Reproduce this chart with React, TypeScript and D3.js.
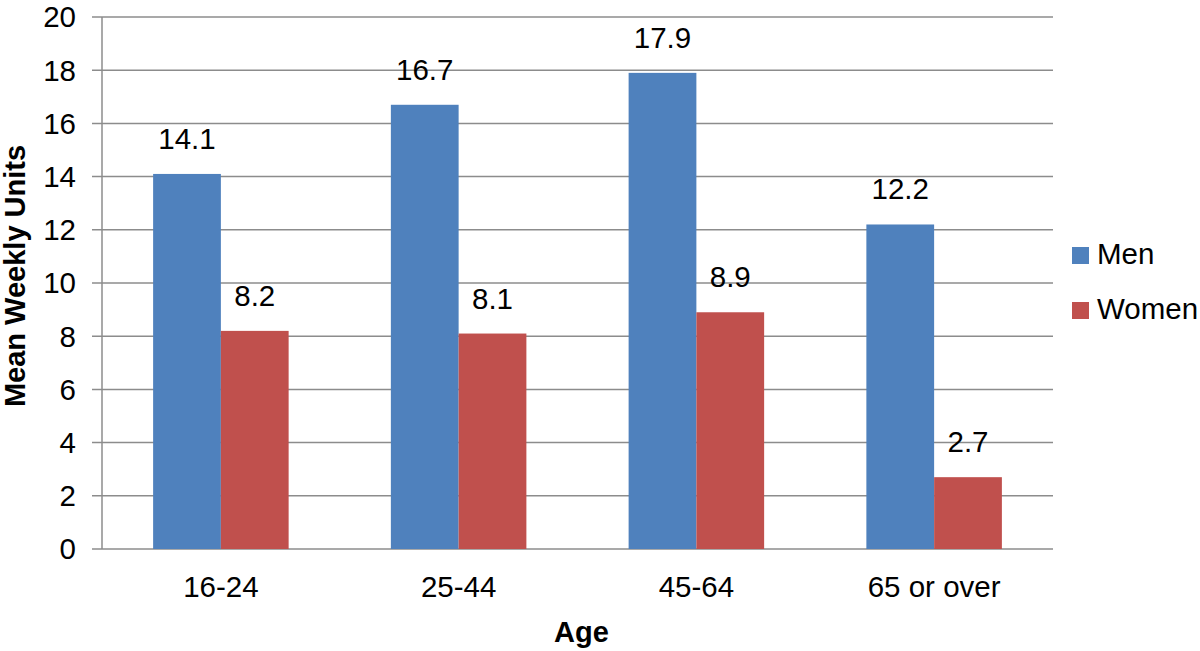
import React, { useEffect, useRef } from "react";
import * as d3 from "d3";

const ageGroups = ["16-24", "25-44", "45-64", "65 or over"];
const seriesNames = ["Men", "Women"];
const menUnits = [14.1, 16.7, 17.9, 12.2];
const womenUnits = [8.2, 8.1, 8.9, 2.7];
const yTicks = [0, 2, 4, 6, 8, 10, 12, 14, 16, 18, 20];

const colors = ["#4F81BD", "#C0504D"];
const font = "'Liberation Sans', Arial, Helvetica, sans-serif";
const fs = "29.5px";

const App = () => {
  const ref = useRef<SVGSVGElement>(null);

  useEffect(() => {
    const width = 1200;
    const height = 651;
    const margin = { top: 17, right: 147, bottom: 102, left: 102 };

    const svg = d3.select(ref.current);
    svg.selectAll("*").remove();

    const x0 = d3
      .scaleBand()
      .domain(ageGroups)
      .range([margin.left, width - margin.right])
      .paddingInner(0.43)
      .paddingOuter(0.215);
    const x1 = d3.scaleBand().domain(seriesNames).range([0, x0.bandwidth()]);
    const y = d3
      .scaleLinear()
      .domain([0, 20])
      .range([height - margin.bottom, margin.top]);

    const g = svg.append("g");

    // gridlines + left tick marks
    g.selectAll("line.grid")
      .data(yTicks)
      .enter()
      .append("line")
      .attr("x1", margin.left - 10)
      .attr("x2", width - margin.right)
      .attr("y1", (d) => y(d))
      .attr("y2", (d) => y(d))
      .attr("stroke", "#8c8c8c")
      .attr("stroke-width", 1.5);

    g.append("line")
      .attr("x1", margin.left)
      .attr("x2", margin.left)
      .attr("y1", y(20))
      .attr("y2", y(0))
      .attr("stroke", "#8c8c8c")
      .attr("stroke-width", 1.5);

    g.selectAll("text.ytick")
      .data(yTicks)
      .enter()
      .append("text")
      .attr("x", 76)
      .attr("y", (d) => y(d))
      .attr("dy", "0.35em")
      .attr("text-anchor", "end")
      .style("font-family", font)
      .style("font-size", fs)
      .text((d) => d);

    const rows = ageGroups.map((a, i) => ({
      age: a,
      values: [menUnits[i], womenUnits[i]],
    }));

    const groups = g
      .selectAll("g.group")
      .data(rows)
      .enter()
      .append("g")
      .attr("transform", (d) => `translate(${x0(d.age)},0)`);

    groups
      .selectAll("rect")
      .data((d) => d.values.map((v, j) => ({ key: seriesNames[j], v, j })))
      .enter()
      .append("rect")
      .attr("x", (d) => x1(d.key)!)
      .attr("y", (d) => y(d.v))
      .attr("width", x1.bandwidth())
      .attr("height", (d) => y(0) - y(d.v))
      .attr("fill", (d) => colors[d.j]);

    groups
      .selectAll("text.label")
      .data((d) => d.values.map((v, j) => ({ key: seriesNames[j], v })))
      .enter()
      .append("text")
      .attr("x", (d) => x1(d.key)! + x1.bandwidth() / 2)
      .attr("y", (d) => y(d.v) - 25)
      .attr("text-anchor", "middle")
      .style("font-family", font)
      .style("font-size", fs)
      .text((d) => d.v.toFixed(1));

    // category labels
    g.selectAll("text.xtick")
      .data(ageGroups)
      .enter()
      .append("text")
      .attr("x", (d) => x0(d)! + x0.bandwidth() / 2)
      .attr("y", 597)
      .attr("text-anchor", "middle")
      .style("font-family", font)
      .style("font-size", fs)
      .text((d) => d);

    // axis titles
    g.append("text")
      .attr("x", (margin.left + width - margin.right) / 2 + 4)
      .attr("y", 642)
      .attr("text-anchor", "middle")
      .style("font-family", font)
      .style("font-size", "29px")
      .style("font-weight", "bold")
      .text("Age");

    g.append("text")
      .attr("transform", `translate(25,276) rotate(-90)`)
      .attr("text-anchor", "middle")
      .style("font-family", font)
      .style("font-size", "29px")
      .style("font-weight", "bold")
      .text("Mean Weekly Units");

    // legend
    const legend = g
      .selectAll("g.legend")
      .data(seriesNames)
      .enter()
      .append("g")
      .attr("transform", (_, i) => `translate(1072,${247 + i * 55})`);
    legend
      .append("rect")
      .attr("width", 17)
      .attr("height", 17)
      .attr("fill", (_, i) => colors[i]);
    legend
      .append("text")
      .attr("x", 25)
      .attr("y", 17)
      .style("font-family", font)
      .style("font-size", fs)
      .text((d) => d);
  }, []);

  return (
    <svg
      ref={ref}
      width={1200}
      height={651}
      style={{ position: "absolute", left: 0, top: 0, background: "#fff" }}
    />
  );
};

export default App;
